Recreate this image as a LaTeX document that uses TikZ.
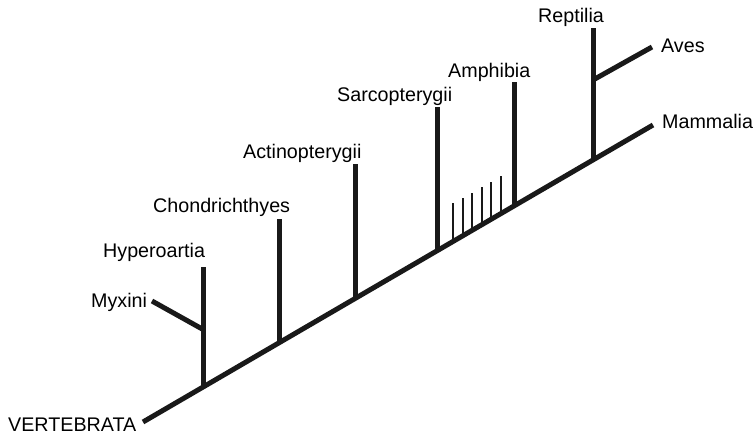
\documentclass[tikz,border=0pt]{standalone}
\usepackage{fontspec}
\setmainfont{Liberation Sans}
\usetikzlibrary{calc}
\begin{document}
\begin{tikzpicture}[x=1pt,y=-1pt,
  lbl/.style={anchor=base west,inner sep=0pt,font=\fontsize{19.7}{22}\selectfont},
  branch/.style={line width=5pt,black!90},
  tick/.style={line width=2.5pt,black!90}]
\useasboundingbox (0,0) rectangle (756,434);
% main line
\coordinate (root) at (143,422);
\coordinate (tip) at (653,125);
\draw[branch] (root) -- (tip);
% junctions
\coordinate (jH) at ($(root)!0.1196!(tip)$);
\coordinate (jC) at ($(root)!0.2667!(tip)$);
\coordinate (jA) at ($(root)!0.4176!(tip)$);
\coordinate (jS) at ($(root)!0.5784!(tip)$);
\coordinate (jM) at ($(root)!0.7275!(tip)$);
\coordinate (jR) at ($(root)!0.8824!(tip)$);
% tops
\coordinate (tH) at (jH |- 0,267);
\coordinate (tC) at (jC |- 0,219);
\coordinate (tA) at (jA |- 0,164);
\coordinate (tS) at (jS |- 0,107);
\coordinate (tM) at (jM |- 0,82);
\coordinate (tR) at (jR |- 0,28);
\draw[branch] (jH) -- (tH);
\draw[branch] (jC) -- (tC);
\draw[branch] (jA) -- (tA);
\draw[branch] (jS) -- (tS);
\draw[branch] (jM) -- (tM);
\draw[branch] (jR) -- (tR);
% side branches
\coordinate (bX) at (jH |- 0,330);
\coordinate (eX) at (152,301);
\draw[branch] (bX) -- (eX);
\coordinate (bAv) at (jR |- 0,80);
\coordinate (eAv) at (652,47);
\draw[branch] (bAv) -- (eAv);
% small ticks
\foreach \t/\y [count=\i] in {0.6078/203,0.6275/198,0.6451/193,0.6647/187,0.6824/182,0.7020/176}{
  \coordinate (k\i) at ($(root)!\t!(tip)$);
  \coordinate (kt\i) at (k\i |- 0,\y);
  \draw[tick] (k\i) -- (kt\i);
}
% labels
\node[lbl] (vert) at (8,431) {VERTEBRATA};
\node[lbl] (myx) at (91,307) {Myxini};
\node[lbl] (hyp) at (103,257) {Hyperoartia};
\node[lbl] (cho) at (153,212) {Chondrichthyes};
\node[lbl] (act) at (243,158) {Actinopterygii};
\node[lbl] (sar) at (337,101) {Sarcopterygii};
\node[lbl] (amp) at (448,77) {Amphibia};
\node[lbl] (rep) at (538,22) {Reptilia};
\node[lbl] (ave) at (661,52) {Aves};
\node[lbl] (mam) at (662,128) {Mammalia};
\end{tikzpicture}
\end{document}
